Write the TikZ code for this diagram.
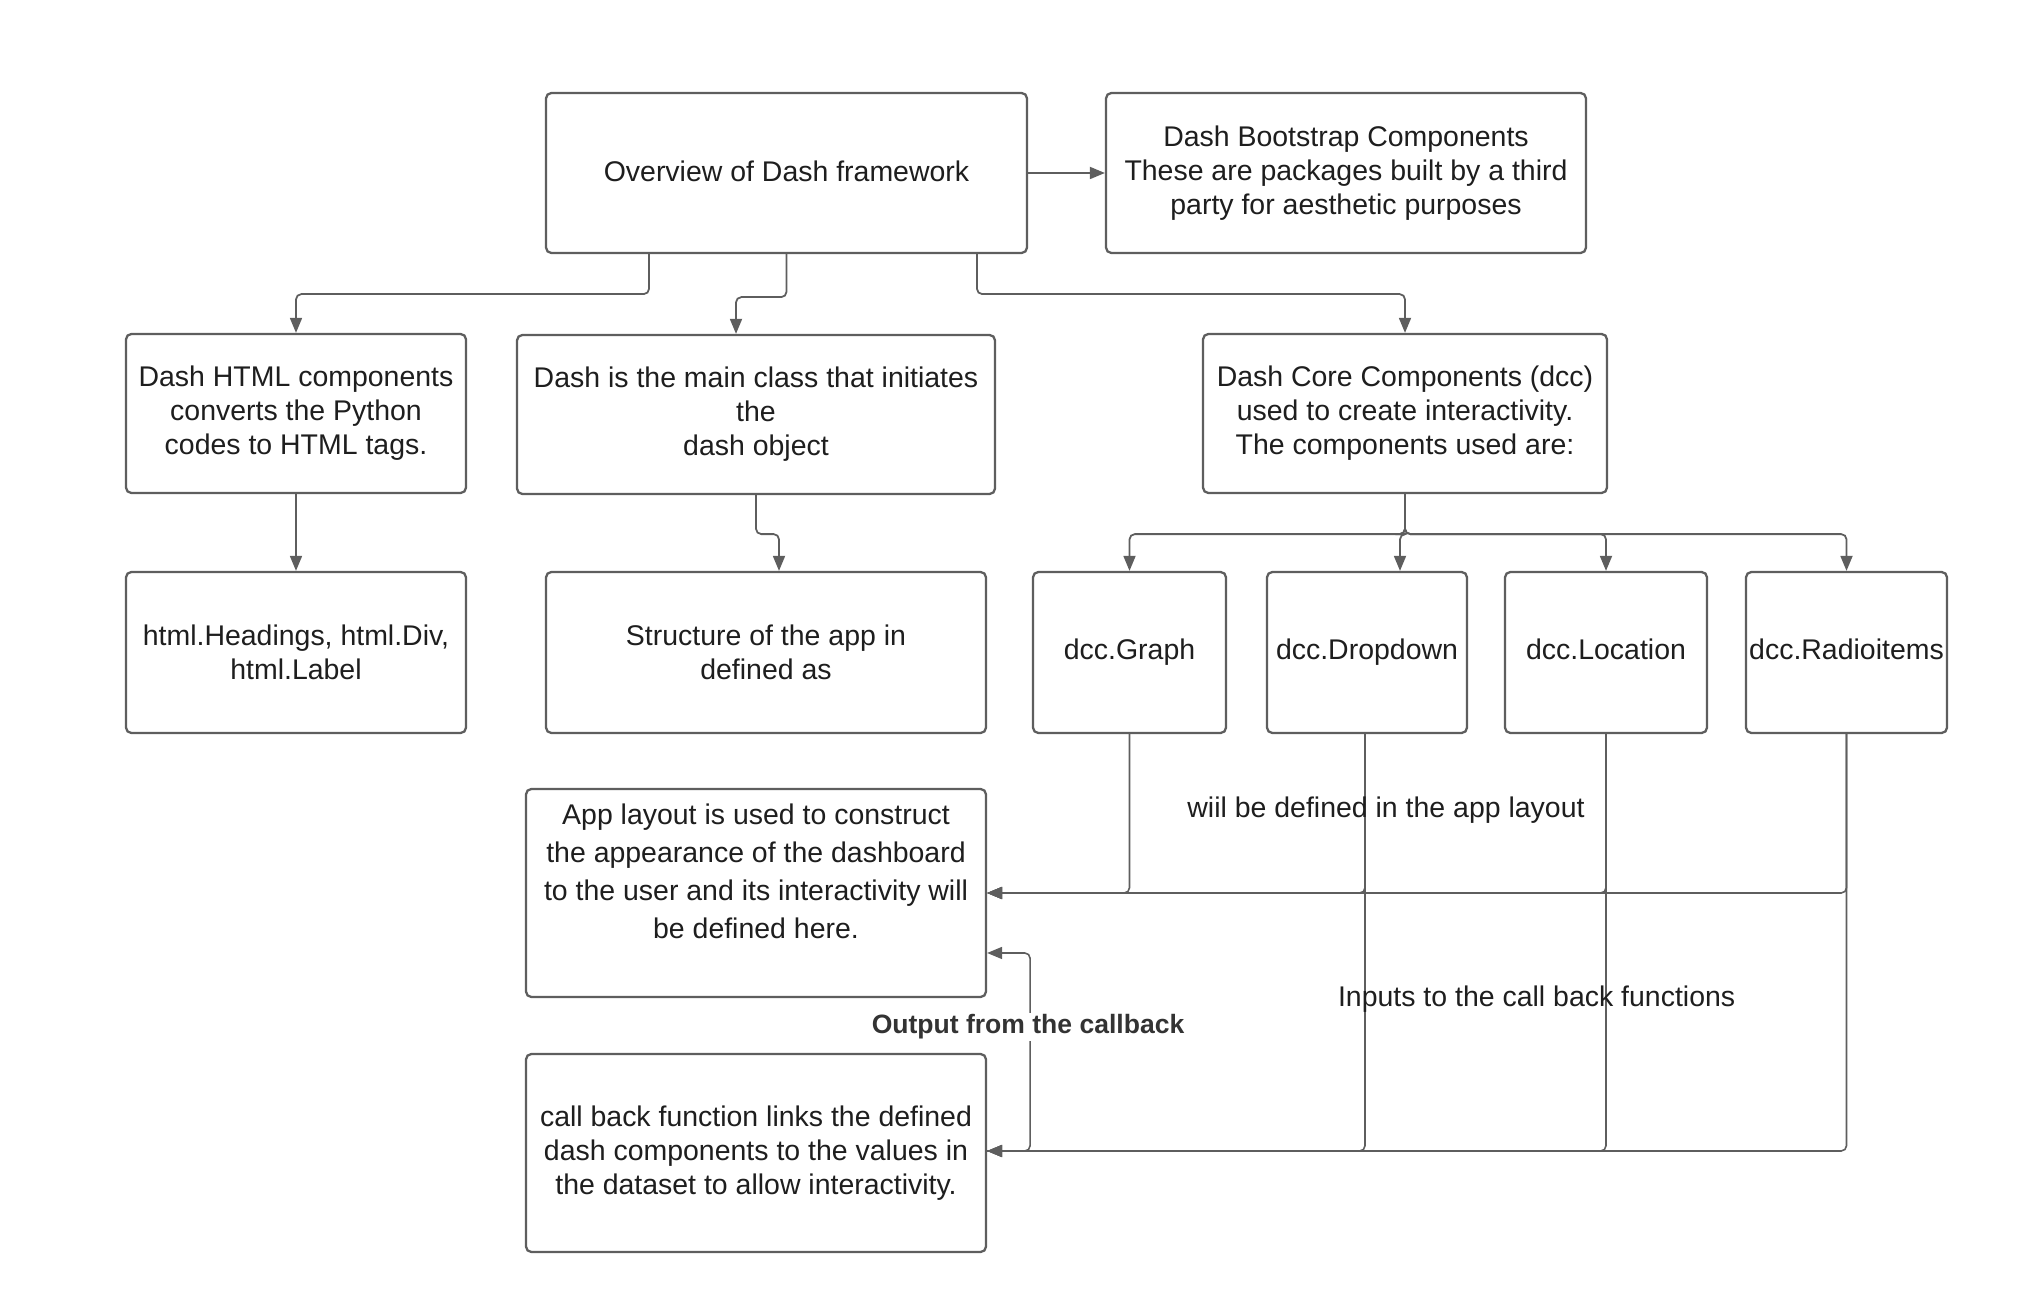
\documentclass[tikz,border=0pt]{standalone}
\usepackage{fontspec}
\setmainfont{Liberation Sans}
\usetikzlibrary{arrows.meta}
\definecolor{edge}{HTML}{5E5E5E}
\definecolor{ink}{HTML}{1E1E1E}
\begin{document}
\begin{tikzpicture}[x=0.02cm,y=-0.02cm,
  box/.style={draw=edge,line width=1.3pt,rounded corners=3pt,fill=white,
    align=center,inner sep=0pt,text=ink,
    font=\fontsize{16.2pt}{19.3pt}\selectfont},
  dccbox/.style={box,minimum height=3.22cm,text height=11.7pt,text depth=3.4pt},
  conn/.style={draw=edge,line width=1pt,rounded corners=3pt,
    -{Triangle[length=0.3cm,width=0.24cm]}},
  thin/.style={conn,line width=0.9pt},
  note/.style={text=ink,font=\fontsize{16.2pt}{19.3pt}\selectfont,inner sep=1pt}]
\useasboundingbox (0,0) rectangle (2035,1310);

% top row
\node[box,minimum width=9.62cm,minimum height=3.2cm] (ov) at (786.5,173)
  {\raisebox{0.08cm}{Overview of Dash framework}};
\node[box,minimum width=9.6cm,minimum height=3.2cm] (bs) at (1346,173)
  {Dash Bootstrap Components\\These are packages built by a third\\party for aesthetic purposes};

% second row
\node[box,minimum width=6.8cm,minimum height=3.18cm] (html) at (296,413.5)
  {Dash HTML components\\converts the Python\\codes to HTML tags.};
\node[box,minimum width=9.56cm,minimum height=3.18cm] (main) at (756,414.5)
  {Dash is the main class that initiates\\the\\dash object};
\node[box,minimum width=8.08cm,minimum height=3.18cm] (core) at (1405,413.5)
  {Dash Core Components (dcc)\\used to create interactivity.\\The components used are:};

% third row
\node[box,minimum width=6.8cm,minimum height=3.22cm] (tags) at (296,652.5)
  {html.Headings, html.Div,\\html.Label};
\node[box,minimum width=8.8cm,minimum height=3.22cm] (struct) at (766,652.5)
  {Structure of the app in\\defined as};
\node[dccbox,minimum width=3.86cm] (graph) at (1129.5,652.5) {dcc.Graph};
\node[dccbox,minimum width=4.0cm] (drop) at (1367,652.5) {dcc.Dropdown};
\node[dccbox,minimum width=4.04cm] (loc) at (1606,652.5) {dcc.Location};
\node[dccbox,minimum width=4.02cm] (radio) at (1846.5,652.5) {dcc.Radioitems};

% layout and callback
\node[box,minimum width=9.2cm,minimum height=4.16cm] (app) at (756,893) {};
\node[note,align=center,font=\fontsize{16.2pt}{21.6pt}\selectfont] (apptext) at (756,871.5)
  {App layout is used to construct\\the appearance of the dashboard\\to the user and its interactivity will\\be defined here.};
\node[box,minimum width=9.2cm,minimum height=3.96cm] (cb) at (756,1153)
  {call back function links the defined\\dash components to the values in\\the dataset to allow interactivity.};

% connectors from the overview
\draw[conn] (ov.east) -- (bs.west);
\draw[conn] ([xshift=-2.75cm]ov.south) -- ++(0,40) -| (html.north);
\draw[conn] (ov.south) -- ++(0,43) -| ([xshift=-0.4cm]main.north);
\draw[conn] ([xshift=3.81cm]ov.south) -- ++(0,40) -| (core.north);

% second row to third row
\draw[conn] (html.south) -- (tags.north);
\draw[conn] (main.south) -- ++(0,39) -| ([xshift=0.26cm]struct.north);
\draw[conn] (core.south) -- ++(0,40) -| (graph.north);
\draw[conn] (core.south) -- ++(0,40) -| ([xshift=0.66cm]drop.north);
\draw[conn] (core.south) -- ++(0,40) -| (loc.north);
\draw[conn] (core.south) -- ++(0,40) -| (radio.north);

% components into the app layout
\draw[thin] (graph.south) |- (app.east);
\draw[thin] ([xshift=-0.04cm]drop.south) |- (app.east);
\draw[thin] (loc.south) |- (app.east);
\draw[thin] (radio.south) |- (app.east);

% components into the callback
\draw[thin] ([xshift=-0.04cm]drop.south) |- ([yshift=0.04cm]cb.east);
\draw[thin] (loc.south) |- ([yshift=0.04cm]cb.east);
\draw[thin] (radio.south) |- ([yshift=0.04cm]cb.east);

% callback output back to the layout
\draw[thin] ([yshift=0.04cm]cb.east) -- ++(43,0) |- ([yshift=-1.2cm]app.east);

% connector labels
\node[note,fill=white,text=black!80,font=\bfseries\fontsize{15.1pt}{18pt}\selectfont] (outlbl) at (1028,1027)
  {Output from the callback};
\node[note] (deflbl) at (1386,810) {wiil be defined in the app layout};
\node[note] (inlbl) at (1536.6,999.3) {Inputs to the call back functions};
\end{tikzpicture}
\end{document}
